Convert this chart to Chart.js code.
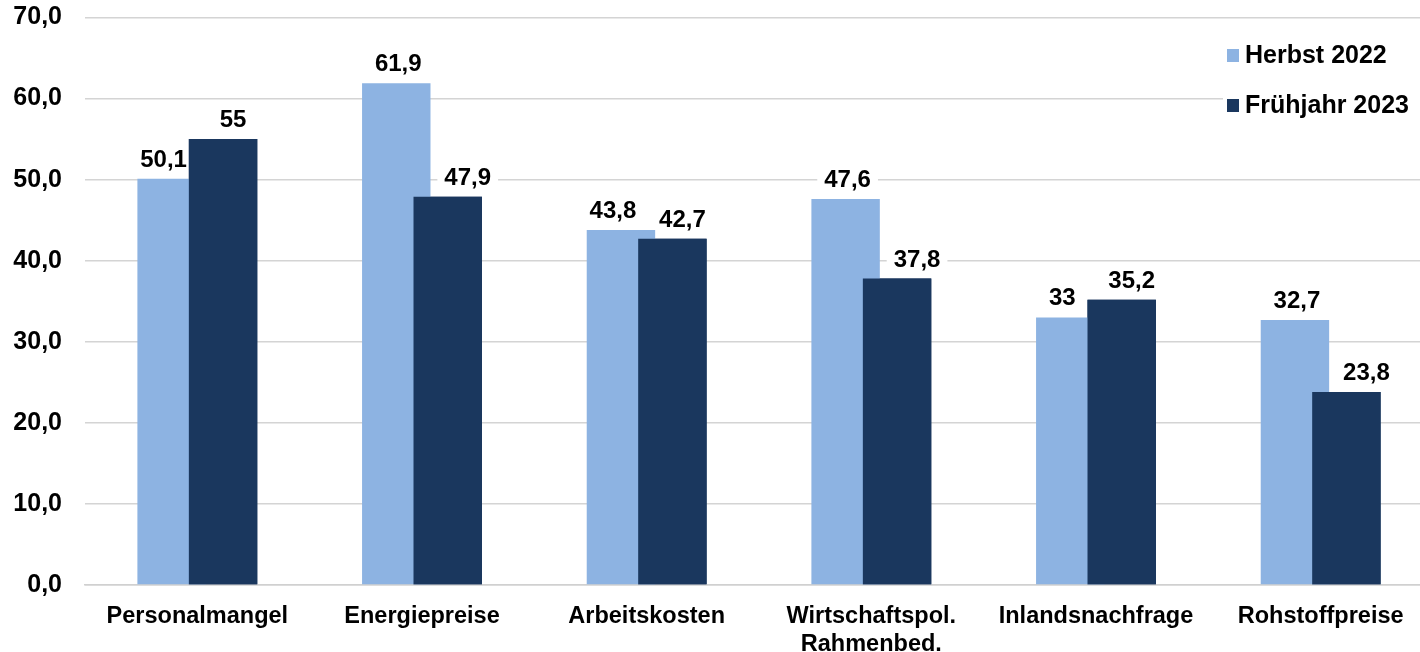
<!DOCTYPE html>
<html>
<head>
<meta charset="utf-8">
<script src="https://cdn.jsdelivr.net/npm/chart.js@4.4.0/dist/chart.umd.min.js"></script>
<style>
  html, body { margin: 0; padding: 0; overflow: hidden; background: #fff; }
</style>
</head>
<body>
<canvas id="chart" width="1433" height="652"></canvas>
<script>
const categories = ['Personalmangel', 'Energiepreise', 'Arbeitskosten', ['Wirtschaftspol.', 'Rahmenbed.'], 'Inlandsnachfrage', 'Rohstoffpreise'];
const herbst2022 = [50.1, 61.9, 43.8, 47.6, 33, 32.7];
const fruehjahr2023 = [55, 47.9, 42.7, 37.8, 35.2, 23.8];
const seriesNames = ['Herbst 2022', 'Frühjahr 2023'];
const yMin = 0, yMax = 70, yStep = 10;

const FONT = '"Liberation Sans", Arial, sans-serif';
const lightBlue = '#8db3e2';
const darkBlue = '#1a375e';
const LABEL_FONT = 'bold 24px ' + FONT;

const fmt = v => String(v).replace('.', ',');

// where the value label sits relative to the bar centre
function labelShift(di, i) {
  const a = herbst2022[i], b = fruehjahr2023[i];
  if (di === 0) return b > a - 5 ? -8 : 2;
  return a > b + 5 ? 20 : 10;
}

const barLabels = {
  id: 'barLabels',
  beforeDatasetsDraw(chart) {
    // white boxes behind the labels hide the gridlines
    const ctx = chart.ctx;
    ctx.save();
    ctx.font = LABEL_FONT;
    chart.data.datasets.forEach((ds, di) => {
      chart.getDatasetMeta(di).data.forEach((bar, i) => {
        const txt = fmt(ds.data[i]);
        const w = ctx.measureText(txt).width;
        const x = bar.x + labelShift(di, i), y = bar.y - 12;
        ctx.fillStyle = '#fff';
        ctx.fillRect(x - w / 2 - 7, y - 25, w + 14, 30);
      });
    });
    ctx.restore();
  },
  afterDatasetsDraw(chart) {
    const ctx = chart.ctx;
    // second series lies over the first one
    chart.getDatasetMeta(1).data.forEach(bar => bar.draw(ctx));
    ctx.save();
    ctx.font = LABEL_FONT;
    ctx.textAlign = 'center';
    ctx.textBaseline = 'alphabetic';
    ctx.fillStyle = '#000';
    chart.data.datasets.forEach((ds, di) => {
      chart.getDatasetMeta(di).data.forEach((bar, i) => {
        ctx.fillText(fmt(ds.data[i]), bar.x + labelShift(di, i), bar.y - 12);
      });
    });
    ctx.restore();
  }
};

const insideLegend = {
  id: 'insideLegend',
  afterDraw(chart) {
    const ctx = chart.ctx;
    const x0 = 1227, rows = [55, 105];
    ctx.save();
    ctx.font = 'bold 25px ' + FONT;
    ctx.textBaseline = 'middle';
    chart.data.datasets.forEach((ds, i) => {
      const y = rows[i];
      ctx.fillStyle = '#fff';
      ctx.fillRect(x0 - 4, y - 20, 206, 40);
      ctx.fillStyle = ds.backgroundColor;
      ctx.fillRect(x0, y - 6, 12, 13);
      ctx.fillStyle = '#000';
      ctx.fillText(ds.label, x0 + 18, y + 1);
    });
    ctx.restore();
  }
};

Chart.defaults.font.family = FONT;
Chart.defaults.font.weight = 'bold';
Chart.defaults.color = '#000';

new Chart(document.getElementById('chart'), {
  type: 'bar',
  data: {
    labels: categories,
    datasets: [
      {
        label: seriesNames[0],
        data: herbst2022,
        backgroundColor: lightBlue,
        categoryPercentage: 0.458,
        barPercentage: 1.33
      },
      {
        label: seriesNames[1],
        data: fruehjahr2023,
        backgroundColor: darkBlue,
        categoryPercentage: 0.458,
        barPercentage: 1.33
      }
    ]
  },
  options: {
    responsive: false,
    animation: false,
    layout: { padding: { top: 17.5, right: 0, left: 0, bottom: 0 } },
    plugins: {
      legend: { display: false },
      tooltip: { enabled: false }
    },
    scales: {
      x: {
        grid: { display: false, drawTicks: false },
        border: { color: '#d0d0d0', width: 1.5 },
        ticks: { font: { size: 23.5, weight: 'bold' }, padding: 17, maxRotation: 0, autoSkip: false },
        afterFit(scale) { scale.height = 67; scale.paddingLeft = 0; scale.paddingRight = 0; }
      },
      y: {
        min: yMin,
        max: yMax,
        grid: { color: '#d4d4d4', lineWidth: 1.5, drawTicks: false },
        border: { display: false },
        ticks: {
          stepSize: yStep,
          padding: 23,
          font: { size: 25, weight: 'bold' },
          callback: v => v.toFixed(1).replace('.', ',')
        },
        afterFit(scale) { scale.width = 85; scale.paddingTop = 0; scale.paddingBottom = 0; }
      }
    }
  },
  plugins: [barLabels, insideLegend]
});
</script>
</body>
</html>
